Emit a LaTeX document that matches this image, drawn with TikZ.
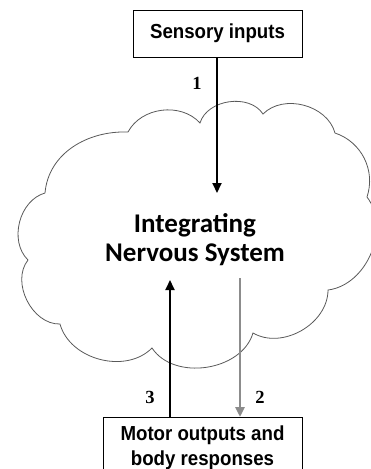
\documentclass[tikz,border=0pt]{standalone}
\usepackage{fontspec}
\usepackage{tikz}
\usetikzlibrary{arrows.meta}
\newfontfamily\arialfont{Liberation Sans}[FakeStretch=0.92]
\newfontfamily\calibfont{Carlito}
\newfontfamily\timesfont{Liberation Serif}
\tikzset{
  databox/.style={draw, line width=0.6pt, fill=white, font=\arialfont\bfseries\fontsize{20.3}{25}\selectfont},
  numlabel/.style={font=\timesfont\bfseries\fontsize{18.5}{20}\selectfont},
  cloudline/.style={draw=black!65, line width=0.8pt},
  pathway/.style={line width=2pt, -{Triangle[length=10pt,width=9pt]}}
}

\begin{document}
\begin{tikzpicture}[x=1pt, y=1pt]
        \useasboundingbox (0,0) rectangle (370,-469);
        % cloud outline
        \coordinate (c1) at (45,-193);
        \coordinate (c2) at (128,-132);
        \coordinate (c3) at (200,-123);
        \coordinate (c4) at (263,-114);
        \coordinate (c5) at (335,-133);
        \coordinate (c6) at (367,-197);
        \coordinate (c7) at (328,-290);
        \coordinate (c8) at (253,-333);
        \coordinate (c9) at (152,-348);
        \coordinate (c10) at (60,-324);
        \coordinate (c11) at (28,-260);
        \draw[cloudline] (c1) to[out=85, in=178] (c2)
            to[bend left=55] (c3) to[bend left=65] (c4)
            to[bend left=60] (c5) to[bend left=45] (c6)
            to[bend left=60] (c7) to[bend left=60] (c8)
            to[bend left=65] (c9) to[bend left=60] (c10)
            to[bend left=65] (c11) to[bend left=60] (c1);
        \node[font=\calibfont\bfseries\fontsize{27}{29}\selectfont, align=center] (nervous) at (195,-240) {Integrating\\Nervous System};
        % boxes
        \node[databox, minimum width=169pt, minimum height=47pt] (sensory) at (217.5,-33.5) {Sensory inputs};
        \node[databox, anchor=north, minimum width=199pt, align=center, inner ysep=8pt] (motor) at (202.5,-417) {Motor outputs and\\body responses};
        % arrows
        \coordinate (in1) at (217,-193);
        \coordinate (up3) at (170,-280);
        \coordinate (down2) at (240,-278);
        \draw[pathway] (sensory.south -| in1) -- (in1);
        \draw[pathway] (motor.north -| up3) -- (up3);
        \draw[pathway, black!45, line width=2.5pt] (down2) -- (motor.north -| down2);
        \node[numlabel] (one) at (197,-83) {1};
        \node[numlabel] (two) at (260,-397) {2};
        \node[numlabel] (three) at (150,-397) {3};
    \end{tikzpicture}
\end{document}
